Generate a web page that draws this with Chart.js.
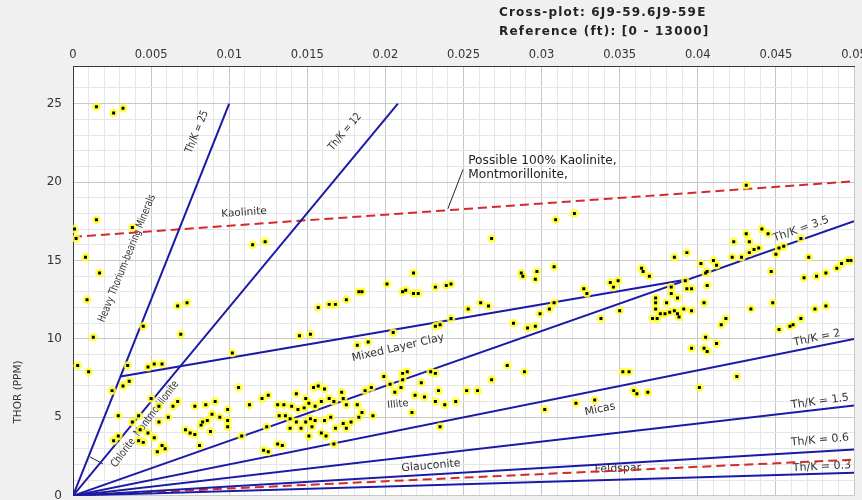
<!DOCTYPE html>
<html>
<head>
<meta charset="utf-8">
<script src="https://cdn.jsdelivr.net/npm/chart.js@4.4.1/dist/chart.umd.min.js"></script>
<style>
  html, body { margin: 0; padding: 0; background: #f0f0f0; }
  #wrap { width: 862px; height: 500px; }
</style>
</head>
<body>
<div id="wrap"><canvas id="myChart" width="862" height="500"></canvas></div>
<script>
const kValues = [
  0.0015, 0.0026, 0.0032, 0.0015, 0.0001, 0.0002, 0.0038, 0.0008, 0.0017, 0.0115,
  0.0123, 0.0009, 0.0013, 0.0067, 0.0073, 0.0045, 0.0069, 0.0003, 0.0010, 0.0035,
  0.0048, 0.0052, 0.0057, 0.0102, 0.0032, 0.0036, 0.0025, 0.0106, 0.0050, 0.0067,
  0.0064, 0.0055, 0.0078, 0.0085, 0.0091, 0.0099, 0.0113, 0.0121, 0.0125, 0.0029,
  0.0042, 0.0061, 0.0038, 0.0055, 0.0089, 0.0094, 0.0086, 0.0083, 0.0082, 0.0088,
  0.0099, 0.0072, 0.0075, 0.0078, 0.0108, 0.0124, 0.0043, 0.0048, 0.0052, 0.0042,
  0.0045, 0.0026, 0.0029, 0.0081, 0.0057, 0.0054, 0.0059, 0.0122, 0.0125, 0.0131,
  0.0134, 0.0145, 0.0152, 0.0099, 0.0132, 0.0136, 0.0139, 0.0143, 0.0146, 0.0149,
  0.0152, 0.0155, 0.0161, 0.0165, 0.0159, 0.0162, 0.0151, 0.0168, 0.0173, 0.0175,
  0.0131, 0.0135, 0.0140, 0.0144, 0.0148, 0.0143, 0.0154, 0.0157, 0.0161, 0.0172,
  0.0173, 0.0164, 0.0167, 0.0149, 0.0151, 0.0155, 0.0159, 0.0175, 0.0182, 0.0185,
  0.0183, 0.0178, 0.0192, 0.0153, 0.0139, 0.0167, 0.0157, 0.0164, 0.0168, 0.0175,
  0.0183, 0.0185, 0.0201, 0.0211, 0.0213, 0.0218, 0.0221, 0.0218, 0.0232, 0.0239,
  0.0242, 0.0253, 0.0261, 0.0266, 0.0242, 0.0235, 0.0232, 0.0205, 0.0182, 0.0189,
  0.0282, 0.0291, 0.0296, 0.0299, 0.0305, 0.0308, 0.0278, 0.0289, 0.0268, 0.0199,
  0.0211, 0.0214, 0.0211, 0.0203, 0.0210, 0.0223, 0.0229, 0.0232, 0.0191, 0.0187,
  0.0206, 0.0219, 0.0225, 0.0234, 0.0252, 0.0259, 0.0232, 0.0238, 0.0245, 0.0217,
  0.0235, 0.0302, 0.0322, 0.0268, 0.0309, 0.0321, 0.0287, 0.0288, 0.0297, 0.0296,
  0.0308, 0.0431, 0.0441, 0.0445, 0.0431, 0.0423, 0.0433, 0.0466, 0.0385, 0.0393,
  0.0402, 0.0410, 0.0412, 0.0406, 0.0405, 0.0422, 0.0428, 0.0433, 0.0436, 0.0439,
  0.0450, 0.0452, 0.0455, 0.0471, 0.0364, 0.0365, 0.0369, 0.0447, 0.0468, 0.0476,
  0.0482, 0.0489, 0.0492, 0.0496, 0.0498, 0.0327, 0.0329, 0.0344, 0.0346, 0.0349,
  0.0392, 0.0393, 0.0396, 0.0406, 0.0383, 0.0383, 0.0387, 0.0373, 0.0373, 0.0380,
  0.0373, 0.0376, 0.0379, 0.0382, 0.0385, 0.0387, 0.0391, 0.0396, 0.0388, 0.0404,
  0.0350, 0.0338, 0.0434, 0.0448, 0.0475, 0.0482, 0.0466, 0.0418, 0.0415, 0.0452,
  0.0459, 0.0461, 0.0405, 0.0412, 0.0404, 0.0406, 0.0396, 0.0352, 0.0356, 0.0425,
  0.0401, 0.0359, 0.0361, 0.0368, 0.0334, 0.0374, 0.0371
];
const thValues = [
  24.8, 24.4, 24.7, 17.6, 17.0, 16.4, 17.1, 15.2, 14.2, 16.0,
  16.2, 12.5, 10.1, 12.1, 12.3, 10.8, 10.3, 8.3, 7.9, 8.3,
  8.2, 8.4, 8.4, 9.1, 7.0, 7.3, 6.7, 6.9, 6.2, 6.0,
  5.7, 5.7, 5.7, 5.8, 6.0, 5.5, 5.8, 6.2, 6.4, 5.1,
  5.1, 5.0, 4.7, 4.7, 5.2, 5.0, 4.8, 4.7, 4.5, 4.1,
  4.4, 4.2, 4.0, 3.9, 3.8, 4.4, 4.2, 4.0, 3.7, 3.5,
  3.4, 3.5, 3.8, 3.2, 3.2, 2.8, 3.0, 2.9, 2.8, 3.3,
  3.2, 10.2, 10.3, 4.8, 5.1, 5.1, 4.9, 4.7, 4.3, 4.7,
  4.9, 4.8, 4.8, 5.0, 4.0, 3.8, 3.8, 4.3, 4.6, 4.3,
  5.8, 5.8, 5.7, 5.5, 5.6, 6.5, 6.9, 7.0, 6.8, 6.6,
  6.2, 6.2, 6.0, 6.2, 5.9, 5.7, 6.0, 5.8, 5.8, 5.3,
  5.0, 4.7, 5.1, 4.4, 4.3, 3.3, 12.0, 12.2, 12.2, 12.5,
  13.0, 13.0, 13.5, 13.0, 13.1, 12.9, 12.9, 14.2, 13.3, 13.4,
  13.5, 11.9, 12.3, 12.1, 11.3, 10.9, 10.8, 10.4, 9.6, 9.8,
  11.0, 10.7, 10.8, 11.6, 11.9, 12.3, 8.3, 7.9, 7.4, 7.6,
  7.8, 7.9, 7.4, 7.1, 6.9, 7.2, 7.9, 7.8, 6.9, 6.7,
  6.6, 6.4, 6.3, 6.7, 6.7, 6.7, 6.0, 5.8, 6.0, 5.3,
  4.4, 5.5, 5.9, 16.4, 17.6, 18.0, 14.2, 14.0, 14.3, 13.8,
  14.6, 19.8, 17.0, 16.7, 16.7, 16.2, 16.2, 16.4, 15.2, 15.5,
  14.8, 15.0, 14.7, 14.3, 14.2, 15.2, 15.2, 15.5, 15.7, 15.8,
  15.4, 15.8, 15.9, 15.2, 14.5, 14.3, 14.0, 14.3, 13.9, 14.0,
  14.2, 14.5, 14.8, 15.0, 15.0, 13.2, 12.9, 13.6, 13.3, 13.7,
  13.7, 13.2, 13.2, 13.4, 13.3, 12.9, 12.6, 12.6, 12.3, 12.3,
  11.9, 11.6, 11.6, 11.7, 11.8, 11.6, 11.9, 11.8, 11.4, 12.3,
  11.8, 11.3, 11.9, 12.3, 11.9, 12.1, 11.3, 11.3, 10.9, 10.6,
  10.8, 10.9, 10.1, 9.7, 9.4, 9.2, 9.4, 7.9, 7.9, 7.6,
  6.9, 6.7, 6.5, 6.6, 6.1, 11.3, 11.3
];

// Th/K ratio lines from the origin
const ratioNames = ['Th/K = 25', 'Th/K = 12', 'Th/K = 3.5', 'Th/K = 2', 'Th/K = 1.5', 'Th/K = 0.6', 'Th/K = 0.3'];
const ratioEndK = [0.0100, 0.0208, 0.05, 0.05, 0.05, 0.05, 0.05];
const ratioEndTh = [25, 25, 17.5, 10, 5.75, 2.95, 1.47];

// other boundary lines
const mixedClayK = [0.00304, 0.0394];
const mixedClayTh = [7.6, 13.8];
const kaoliniteK = [0, 0.05];
const kaoliniteTh = [16.5, 20.05];
const feldsparK = [0, 0.05];
const feldsparTh = [0, 2.3];
const noteLeaderK = [0.02497, 0.0240];
const noteLeaderTh = [20.8, 18.3];
const chloriteLeaderK = [0.00109, 0.00192];
const chloriteLeaderTh = [2.47, 2.03];

// axis ranges / tick steps
const xMin = 0, xMax = 0.05, xStep = 0.001;
const yMin = 0, yMax = 27.4, yStep = 1;

// annotation labels (text, K, Th, angle in degrees)
const noteText = ['Th/K = 25', 'Th/K = 12', 'Kaolinite', 'Heavy Thorium-bearing Minerals',
  'Th/K = 3.5', 'Mixed Layer Clay', 'Illite', 'Th/K = 2', 'Th/K = 1.5', 'Th/K = 0.6',
  'Th/K = 0.3', 'Micas', 'Glauconite', 'Feldspar', 'Chlorite  Montmorillonite'];
const noteK = [0.00794, 0.01741, 0.01095, 0.00346, 0.04661, 0.02081, 0.0208, 0.04763,
  0.04782, 0.04782, 0.04795, 0.03374, 0.02292, 0.03489, 0.00461];
const noteTh = [23.2, 23.2, 18.05, 15.13, 17.0, 9.43, 5.82, 10.06, 6.01, 3.54, 1.84,
  5.5, 1.9, 1.71, 4.56];
const noteAngle = [-68, -50, -4, -68, -19.5, -13, -6, -12, -8, -5, -3, -12, -5, -2, -53];

const points = kValues.map((k, i) => ({x: k, y: thValues[i]}));

function lineSet(ks, ths, color, dash) {
    return {
        data: ks.map((k, i) => ({x: k, y: ths[i]})),
        showLine: true,
        borderColor: color,
        borderWidth: 2,
        borderDash: dash || [],
        pointRadius: 0,
        pointHoverRadius: 0,
        fill: false,
        order: 5
    };
}

const BLUE = '#1a1aa6';
const RED = '#d42a2a';
const PLAIN = '"DejaVu Sans"';
// steep labels in the original are squeezed along the text direction
const noteSize = [11, 11, 10.5, 11, 11, 11, 10, 11, 11, 11, 11, 11, 11, 11, 11];
const noteSqueeze = [0.82, 0.82, 1, 0.76, 1, 1, 1, 1, 1, 1, 1, 1, 1, 1, 0.77];

const datasets = [
    {
        data: points,
        pointStyle: 'rect',
        pointRadius: 2.1,
        pointBackgroundColor: '#000',
        pointBorderWidth: 0,
        order: 0
    },
    {
        data: points,
        pointStyle: 'circle',
        pointRadius: 4.3,
        pointBackgroundColor: 'rgba(255, 255, 40, 0.85)',
        pointBorderWidth: 0,
        order: 1
    }
];
ratioNames.forEach((n, i) => {
    datasets.push(lineSet([0, ratioEndK[i]], [0, ratioEndTh[i]], BLUE));
});
datasets.push(lineSet(mixedClayK, mixedClayTh, BLUE));
datasets.push(lineSet(kaoliniteK, kaoliniteTh, RED, [9, 5]));
datasets.push(lineSet(feldsparK, feldsparTh, RED, [9, 5]));
const leader1 = lineSet(noteLeaderK, noteLeaderTh, '#222');
leader1.borderWidth = 1;
datasets.push(leader1);
const leader2 = lineSet(chloriteLeaderK, chloriteLeaderTh, '#222');
leader2.borderWidth = 1;
datasets.push(leader2);

function isMajorX(v) { return Math.round(v * 1000) % 5 === 0; }
function isMajorY(v) { return Math.abs(v - Math.round(v)) < 1e-6 && Math.round(v) % 5 === 0; }

const backdrop = {
    id: 'backdrop',
    beforeDraw(chart) {
        const {ctx, chartArea: a} = chart;
        ctx.save();
        ctx.fillStyle = '#f0f0f0';
        ctx.fillRect(0, 0, chart.width, chart.height);
        ctx.fillStyle = '#ffffff';
        ctx.fillRect(a.left, a.top, a.right - a.left, a.bottom - a.top);
        ctx.restore();
    }
};

const notes = {
    id: 'notes',
    beforeDatasetsDraw(chart) {
        const {ctx, scales: {x, y}} = chart;
        ctx.save();
        ctx.fillStyle = '#333';
        ctx.textAlign = 'center';
        ctx.textBaseline = 'middle';
        noteText.forEach((t, i) => {
            ctx.save();
            ctx.font = noteSize[i] + 'px ' + PLAIN;
            ctx.translate(x.getPixelForValue(noteK[i]), y.getPixelForValue(noteTh[i]));
            ctx.rotate(noteAngle[i] * Math.PI / 180);
            ctx.scale(noteSqueeze[i], 1);
            ctx.fillText(t, 0, 0);
            ctx.restore();
        });
        // the kaolinite note is written flat, left aligned
        ctx.textAlign = 'left';
        ctx.fillStyle = '#222';
        ctx.font = '12.2px ' + PLAIN;
        ctx.fillText('Possible 100% Kaolinite,', x.getPixelForValue(0.0253), y.getPixelForValue(21.33));
        ctx.fillText('Montmorillonite,', x.getPixelForValue(0.0253), y.getPixelForValue(20.44));
        ctx.restore();
    },
    afterDraw(chart) {
        const {ctx} = chart;
        ctx.save();
        ctx.fillStyle = '#222';
        ctx.font = 'bold 12px ' + PLAIN;
        ctx.letterSpacing = '1.2px';
        ctx.textAlign = 'left';
        ctx.textBaseline = 'middle';
        ctx.fillText('Cross-plot: 6J9-59.6J9-59E', 499, 13);
        ctx.fillText('Reference (ft): [0 - 13000]', 499, 32);
        ctx.letterSpacing = '0px';
        // y axis title
        ctx.font = '10.5px ' + PLAIN;
        ctx.fillStyle = '#333';
        ctx.textAlign = 'center';
        ctx.translate(18, 392);
        ctx.rotate(-Math.PI / 2);
        ctx.fillText('THOR (PPM)', 0, 0);
        ctx.restore();
    }
};

const ctx = document.getElementById('myChart').getContext('2d');
const myChart = new Chart(ctx, {
    type: 'scatter',
    data: { datasets: datasets },
    options: {
        responsive: false,
        animation: false,
        events: [],
        layout: { padding: { left: 0, top: 0, right: 8, bottom: 1 } },
        plugins: {
            legend: { display: false },
            tooltip: { enabled: false },
            title: { display: false }
        },
        scales: {
            x: {
                type: 'linear',
                position: 'top',
                min: xMin,
                max: xMax,
                afterFit(scale) {
                    scale.height = 66;
                    scale.paddingLeft = 0;
                    scale.paddingRight = 0;
                },
                ticks: {
                    stepSize: xStep,
                    autoSkip: false,
                    maxRotation: 0,
                    minRotation: 0,
                    padding: 4,
                    color: '#333',
                    font: { family: 'DejaVu Sans', size: 11.5 },
                    callback: v => isMajorX(v) ? String(Math.round(v * 1000) / 1000) : ''
                },
                grid: {
                    drawTicks: false,
                    color: c => isMajorX(c.tick.value) ? '#c8c8c8' : '#e6e6e6',
                    lineWidth: 1
                },
                border: { display: true, color: '#3a3a3a', width: 1 }
            },
            y: {
                type: 'linear',
                min: yMin,
                max: yMax,
                afterFit(scale) {
                    scale.width = 73;
                    scale.paddingTop = 0;
                    scale.paddingBottom = 0;
                },
                ticks: {
                    stepSize: yStep,
                    autoSkip: false,
                    padding: 11,
                    color: '#333',
                    font: { family: 'DejaVu Sans', size: 12 },
                    callback: v => isMajorY(v) ? String(Math.round(v)) : ''
                },
                grid: {
                    drawTicks: false,
                    color: c => isMajorY(c.tick.value) ? '#c8c8c8' : '#e6e6e6',
                    lineWidth: 1
                },
                border: { display: true, color: '#3a3a3a', width: 1 }
            }
        }
    },
    plugins: [backdrop, notes]
});
</script>
</body>
</html>
